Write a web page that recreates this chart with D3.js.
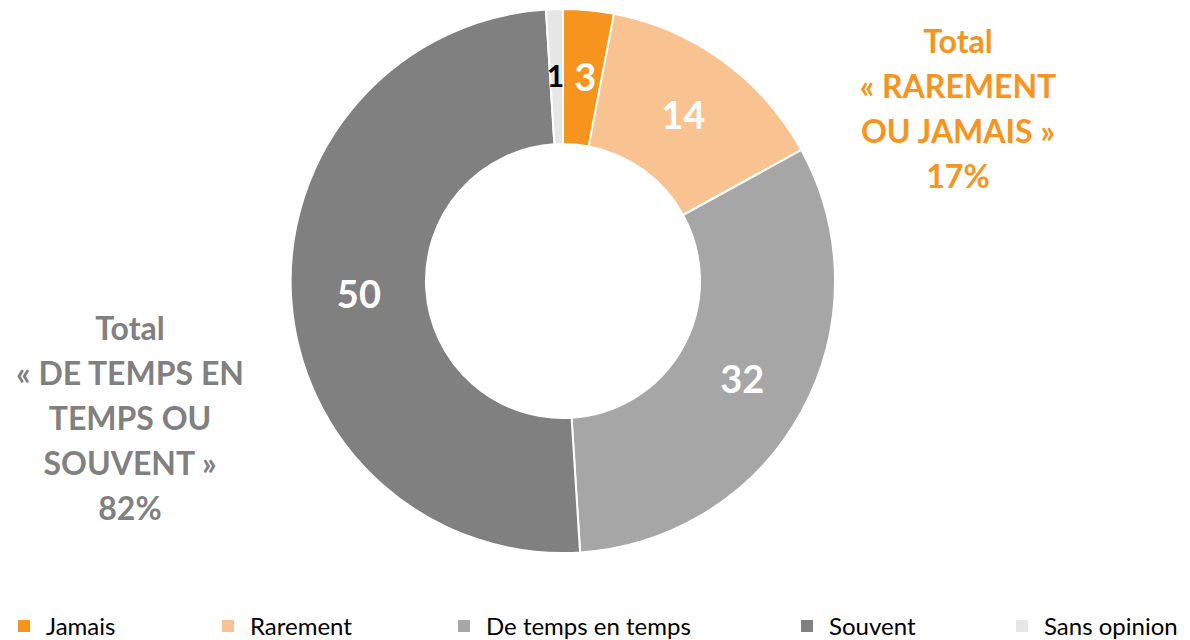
<!DOCTYPE html>
<html>
<head>
<meta charset="utf-8">
<script src="https://cdn.jsdelivr.net/npm/d3@7"></script>
<style>
  body { margin: 0; background: #fff; }
  svg { display: block; font-family: Lato, "Open Sans", sans-serif; }
</style>
</head>
<body>
<svg width="1190" height="640"></svg>
<script>
// données
var categories = ["Jamais", "Rarement", "De temps en temps", "Souvent", "Sans opinion"];
var values = [3, 14, 32, 50, 1];
var colors = ["#F7941D", "#F9C291", "#A6A6A6", "#808080", "#E7E6E6"];
var labelColors = ["#fff", "#fff", "#fff", "#fff", "#000"];
var totalRight = ["Total", "« RAREMENT", "OU JAMAIS »", "17%"];
var totalLeft = ["Total", "« DE TEMPS EN", "TEMPS OU", "SOUVENT »", "82%"];

var svg = d3.select("svg"),
    cx = 563, cy = 281,
    outerR = 272, innerR = 137;

var pie = d3.pie().sort(null).value(function(d) { return d; });
var arc = d3.arc().innerRadius(innerR).outerRadius(outerR);
var labelArc = d3.arc().innerRadius((innerR + outerR) / 2).outerRadius((innerR + outerR) / 2);

var g = svg.append("g").attr("transform", "translate(" + cx + "," + cy + ")");

var arcs = pie(values);

g.selectAll("path")
    .data(arcs)
    .enter().append("path")
    .attr("d", arc)
    .attr("fill", function(d, i) { return colors[i]; })
    .attr("stroke", "#fff")
    .attr("stroke-width", 2);

g.selectAll("text.val")
    .data(arcs)
    .enter().append("text")
    .attr("class", "val")
    .attr("transform", function(d, i) {
        var c = labelArc.centroid(d);
        // petit décalage pour que "1" et "3" ne se touchent pas
        if (i == 0) c[0] += 3;
        if (i == 4) c[0] -= 1;
        return "translate(" + c[0] + "," + c[1] + ")";
    })
    .attr("text-anchor", "middle")
    .attr("dy", "0.36em")
    .attr("fill", function(d, i) { return labelColors[i]; })
    .style("font-weight", "bold")
    .style("font-size", function(d, i) { return i == 4 ? "30px" : "38px"; })
    .text(function(d) { return d.data; });

// totaux
svg.append("text")
    .attr("x", 958).attr("y", 53)
    .attr("text-anchor", "middle")
    .attr("fill", "#F7941D")
    .style("font-weight", "bold")
    .style("font-size", "32px")
    .selectAll("tspan")
    .data(totalRight)
    .enter().append("tspan")
    .attr("x", 958)
    .attr("dy", function(d, i) { return i == 0 ? 0 : 45; })
    .text(function(d) { return d; });

svg.append("text")
    .attr("x", 130).attr("y", 340)
    .attr("text-anchor", "middle")
    .attr("fill", "#808080")
    .style("font-weight", "bold")
    .style("font-size", "32px")
    .selectAll("tspan")
    .data(totalLeft)
    .enter().append("tspan")
    .attr("x", 130)
    .attr("dy", function(d, i) { return i == 0 ? 0 : 45; })
    .text(function(d) { return d; });

// légende
var legendX = [18, 222, 458, 801, 1016];
var legend = svg.selectAll("g.legend")
    .data(categories)
    .enter().append("g")
    .attr("class", "legend")
    .attr("transform", function(d, i) { return "translate(" + legendX[i] + ",620)"; });

legend.append("rect")
    .attr("width", 12).attr("height", 12)
    .attr("fill", function(d, i) { return colors[i]; });

legend.append("text")
    .attr("x", 28).attr("y", 6)
    .attr("dy", "0.36em")
    .attr("fill", "#000")
    .style("font-size", "24px")
    .text(function(d) { return d; });
</script>
</body>
</html>
